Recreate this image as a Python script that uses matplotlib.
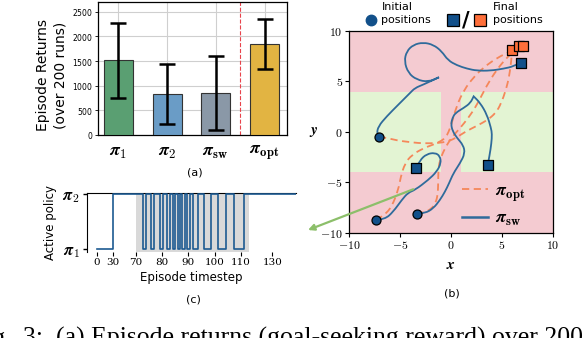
import numpy as np
import matplotlib
matplotlib.use("Agg")
import matplotlib.pyplot as plt
from matplotlib.path import Path
from matplotlib.patches import PathPatch, Rectangle
from matplotlib.lines import Line2D

plt.rcParams['mathtext.fontset'] = 'cm'
plt.rcParams['font.family'] = ['DejaVu Sans']
plt.rcParams['axes.formatter.use_mathtext'] = True

# ---------------- data: panel (a) ----------------
policies = [r'$\boldsymbol{\pi}_{\mathbf{1}}$', r'$\boldsymbol{\pi}_{\mathbf{2}}$',
            r'$\boldsymbol{\pi}_{\mathbf{sw}}$', r'$\boldsymbol{\pi}_{\mathbf{opt}}$']
returns_mean = [1525, 840, 860, 1850]
returns_low = [750, 220, 100, 1330]
returns_high = [2280, 1440, 1610, 2360]
bar_colors = ['#5a9f72', '#6a9cc6', '#8a98a7', '#e2b442']

# ---------------- data: panel (c) ----------------
switch_t = [0, 30, 72.8, 73.8, 75.9, 76.8, 79.1, 80.3, 82.0, 83.1, 84.1, 85.0,
            86.0, 86.9, 87.7, 88.6, 89.4, 90.5, 91.7, 93.6, 96.1, 98.7, 101.2,
            104.4, 107.5, 112.2, 145]
active_policy = [0, 1, 0, 1, 0, 1, 0, 1, 0, 1, 0, 1, 0, 1, 0, 1, 0, 1, 0, 1,
                 0, 1, 0, 1, 0, 1, 1]
shade_t = [70, 115]
c_ticks = [0, 30, 70, 80, 90, 100, 110, 130]

# ---------------- data: panel (b) ----------------
init_x = [-7.06, -7.35, -3.37]
init_y = [-0.46, -8.74, -8.12]
sw_final_x = [6.83, -3.46, 3.6]
sw_final_y = [6.86, -3.6, -3.27]
opt_final_x = [5.98, 6.63, 7.05]
opt_final_y = [8.12, 8.51, 8.51]

sw_traj_x = [
    [-7.06, -7.28, -7.13, -6.3, -5.17, -4.02, -3.53, -2.72, -1.18, -1.18, -2.23, -3.37, -4.19,
     -4.58, -4.35, -3.69, -2.72, -1.73, -0.91, -0.3, 0.59, 1.57, 2.55, 3.86, 5.16, 6.14, 6.83],
    [-7.35, -6.47, -5.66, -4.83, -4.2, -3.53, -2.23, -1.4, -0.98, -1.08, -1.57, -2.38, -3.04, -3.46],
    [-3.37, -2.55, -1.73, -1.08, -0.59, -0.2, 0.23, 0.88, 1.37, 1.2, 0.6, 0.15, 0.0, 0.15, 0.42,
     1.24, 1.9, 2.22, 2.22, 2.87, 3.53, 3.92, 4.02, 3.96, 3.79, 3.6],
]
sw_traj_y = [
    [-0.46, -0.2, 0.56, 1.55, 2.7, 3.86, 4.36, 4.69, 5.42, 5.42, 4.95, 5.18, 5.84,
     7.0, 7.99, 8.64, 8.87, 8.64, 7.99, 7.1, 6.6, 6.27, 6.07, 6.07, 6.27, 6.5, 6.86],
    [-8.74, -8.64, -7.89, -6.73, -6.0, -5.74, -4.75, -3.93, -3.1, -2.38, -2.05, -2.18, -2.77, -3.6],
    [-8.12, -8.05, -7.56, -6.73, -5.91, -5.1, -4.09, -3.1, -2.11, -1.3, -0.6, 0.1, 0.8, 1.4, 1.88,
     2.38, 2.87, 3.53, 3.53, 2.87, 1.71, 0.4, -0.2, -1.12, -2.28, -3.27],
]
opt_traj_x = [
    [-7.06, -6.15, -5.2, -4.34, -3.2, -2.06, -1.2, -0.42, 0.42, 1.4, 2.52, 3.6, 4.4, 4.9, 5.4,
     5.7, 5.85, 5.95, 5.98],
    [-7.35, -6.5, -5.81, -5.17, -4.93, -4.51, -3.85, -2.72, -1.4, -0.5, 0.0, 0.55, 1.3, 2.2,
     3.2, 4.6, 5.8, 6.63],
    [-3.37, -2.6, -1.9, -1.5, -1.3, -1.25, -1.25, -1.1, -0.6, 0.1, 0.9, 1.7, 2.5, 3.5, 4.5,
     5.6, 6.4, 7.05],
]
opt_traj_y = [
    [-0.46, -0.62, -0.85, -0.96, -1.1, -1.12, -1.08, -0.96, -0.63, 0.03, 0.6, 1.2, 1.9, 2.8,
     4.2, 5.5, 6.6, 7.5, 8.12],
    [-8.74, -8.2, -7.4, -5.74, -4.43, -3.1, -2.28, -1.61, -1.12, -0.6, 0.6, 2.6, 4.2, 5.4,
     6.4, 7.4, 7.95, 8.51],
    [-8.12, -7.95, -7.6, -7.0, -6.2, -5.0, -3.8, -2.8, -1.6, -0.5, 0.4, 1.4, 2.6, 4.6, 6.2,
     7.5, 8.2, 8.51],
]
green_regions = [(-10, -1, -4, 4), (1, 10, -4, 4)]
arrow_start = (-3.7, -5.67)

# ---------------- figure ----------------
W, H = 588, 338
fig = plt.figure(figsize=(W / 100, H / 100), dpi=100)


def rect(l, t, r, b):
    return [l / W, 1 - b / H, (r - l) / W, (b - t) / H]


def fx(px):
    return px / W


def fy(py):
    return 1 - py / H


# ---------- panel (a) ----------
axA = fig.add_axes(rect(98, 2, 287, 135))
xa = np.arange(len(policies))
axA.bar(xa, returns_mean, width=0.6, color=bar_colors, edgecolor='#333333',
        linewidth=0.8, zorder=3)
err = [np.array(returns_mean) - np.array(returns_low),
       np.array(returns_high) - np.array(returns_mean)]
axA.errorbar(xa, returns_mean, yerr=err, fmt='none', ecolor='black', elinewidth=1.8,
             capsize=5.5, capthick=1.8, zorder=4)
axA.axvline(2.5, color='#e8434b', linestyle='--', linewidth=0.8, zorder=2)
axA.set_xlim(-0.42, 3.46)
axA.set_ylim(0, 2700)
axA.set_yticks([0, 500, 1000, 1500, 2000, 2500])
axA.set_xticks(xa)
axA.set_xticklabels(policies, fontsize=13)
axA.tick_params(axis='y', labelsize=5.5, length=2, width=0.6, pad=1.5)
axA.tick_params(axis='x', length=0, pad=6)
axA.grid(True, color='#cfcfcf', linewidth=0.8)
axA.set_axisbelow(True)
for s in axA.spines.values():
    s.set_linewidth(0.9)
fig.text(fx(52), fy(75), 'Episode Returns\n(over 200 runs)', rotation=90,
         ha='center', va='center', fontsize=10, linespacing=1.3)
fig.text(fx(195), fy(172), '(a)', ha='center', va='center', fontsize=8)

# ---------- panel (c) ----------
t_break = [-20, 0, 30, 70, 110, 130, 150]
p_break = [85.7, 96.7, 113.3, 136.0, 241.7, 273.3, 305.0]


def fwd(t):
    return np.interp(t, t_break, p_break)


def inv(p):
    return np.interp(p, p_break, t_break)


axC = fig.add_axes(rect(86.7, 192.7, 296, 251.7))
axC.set_xscale('function', functions=(fwd, inv))
axC.axvspan(shade_t[0], shade_t[1], color='#d9d9d9', linewidth=0, zorder=1)
axC.step(switch_t, active_policy, where='post', color='#1d5a91', linewidth=1.2, zorder=3)
axC.set_xlim(-18, 145)
axC.set_ylim(-0.05, 1.025)
axC.set_yticks([0, 1])
axC.set_yticklabels([r'$\boldsymbol{\pi}_{\mathbf{1}}$', r'$\boldsymbol{\pi}_{\mathbf{2}}$'],
                    fontsize=12)
axC.set_xticks(c_ticks)
axC.set_xticklabels([str(t) for t in c_ticks], fontfamily='DejaVu Serif', fontsize=7.5)
axC.tick_params(axis='x', length=3, width=0.8, pad=1.5)
axC.tick_params(axis='y', length=3, width=1.0, pad=2)
axC.spines['right'].set_visible(False)
axC.spines['bottom'].set_visible(False)
axC.set_ylabel('Active policy', fontsize=8.5, labelpad=4)
axC.set_xlabel('Episode timestep', fontsize=8.5, labelpad=3)
fig.text(fx(193), fy(300), '(c)', ha='center', va='center', fontsize=8)

# ---------- panel (b) ----------
axB = fig.add_axes(rect(349, 31, 553, 233))
axB.set_facecolor('#f4cbd1')
for (x0, x1, y0, y1) in green_regions:
    axB.add_patch(Rectangle((x0, y0), x1 - x0, y1 - y0, facecolor='#e3f4d3',
                            edgecolor='none', zorder=0))


def smooth_path(xs, ys):
    pts = np.column_stack([xs, ys])
    verts = [pts[0]]
    codes = [Path.MOVETO]
    n = len(pts)
    for i in range(1, n - 1):
        mid = (pts[i] + pts[i + 1]) / 2 if i < n - 2 else pts[i + 1]
        verts += [pts[i], mid]
        codes += [Path.CURVE3, Path.CURVE3]
    return Path(verts, codes)


for xs, ys in zip(opt_traj_x, opt_traj_y):
    axB.add_patch(PathPatch(smooth_path(xs, ys), fill=False, edgecolor='#f5875a',
                            linewidth=1.3, linestyle=(0, (4, 2.5)), zorder=3))
for xs, ys in zip(sw_traj_x, sw_traj_y):
    axB.add_patch(PathPatch(smooth_path(xs, ys), fill=False, edgecolor='#2f6b9b',
                            linewidth=1.3, zorder=4))

axB.scatter(init_x, init_y, s=42, marker='o', facecolor='#12508a', edgecolor='black',
            linewidth=0.9, zorder=6)
axB.scatter(sw_final_x, sw_final_y, s=42, marker='s', facecolor='#12508a',
            edgecolor='black', linewidth=0.9, zorder=6)
axB.scatter(opt_final_x, opt_final_y, s=42, marker='s', facecolor='#ff6f3a',
            edgecolor='black', linewidth=0.9, zorder=6)

axB.set_xlim(-10, 10)
axB.set_ylim(-10, 10)
axB.set_xticks([-10, -5, 0, 5, 10])
axB.set_yticks([-10, -5, 0, 5, 10])
for lab in axB.get_xticklabels() + axB.get_yticklabels():
    lab.set_fontfamily('cmr10')
axB.tick_params(labelsize=8.5, length=3, width=0.8, pad=1.5)
for s in axB.spines.values():
    s.set_linewidth(0.9)
axB.set_xlabel(r'$\boldsymbol{x}$', fontsize=11, labelpad=4)
axB.set_ylabel(r'$\boldsymbol{y}$', fontsize=11, rotation=0, labelpad=5, va='center')

leg_handles = [Line2D([], [], color='#f5875a', linestyle=(0, (4, 2.5)), linewidth=1.3),
               Line2D([], [], color='#2f6b9b', linewidth=1.8)]
axB.legend(leg_handles, [r'$\boldsymbol{\pi}_{\mathbf{opt}}$', r'$\boldsymbol{\pi}_{\mathbf{sw}}$'],
           loc='center left', bbox_to_anchor=(0.555, 0.14), frameon=False, fontsize=13,
           handlelength=1.45, handletextpad=0.35, labelspacing=0.3, borderpad=0,
           borderaxespad=0)

# top legend (figure level)
fig.add_artist(Line2D([fx(370.7)], [fy(20)], marker='o', markersize=7.5,
                      markerfacecolor='#12508a', markeredgecolor='#12508a',
                      transform=fig.transFigure))
fig.text(fx(381.5), fy(13.5), 'Initial\npositions', ha='left', va='center',
         fontsize=8, linespacing=1.3)
fig.add_artist(Line2D([fx(453.3)], [fy(20)], marker='s', markersize=8,
                      markerfacecolor='#12508a', markeredgecolor='black',
                      markeredgewidth=0.9, transform=fig.transFigure))
fig.text(fx(466), fy(20), '/', ha='center', va='center', fontsize=15,
         fontweight='bold')
fig.add_artist(Line2D([fx(480)], [fy(20)], marker='s', markersize=8,
                      markerfacecolor='#ff6f3a', markeredgecolor='black',
                      markeredgewidth=0.9, transform=fig.transFigure))
fig.text(fx(492.5), fy(13.5), 'Final\npositions', ha='left', va='center',
         fontsize=8, linespacing=1.3)

fig.text(fx(452), fy(294), '(b)', ha='center', va='center', fontsize=8)

# green arrow from panel (b) to panel (c)
axB.annotate('', xy=(fx(308), fy(230)), xycoords='figure fraction',
             xytext=arrow_start, textcoords='data',
             arrowprops=dict(arrowstyle='-|>', color='#8cbf6a', linewidth=1.6,
                             mutation_scale=9, shrinkA=0, shrinkB=0),
             annotation_clip=False, zorder=7)

# partially visible caption at bottom (cropped by the figure edge)
fig.text(fx(12), fy(345), 'Fig.', ha='right', va='baseline',
         fontfamily='Liberation Serif', fontsize=18.5)
fig.text(fx(23), fy(345), '3:  (a) Episode returns (goal-seeking reward) over 200 runs',
         ha='left', va='baseline', fontfamily='Liberation Serif', fontsize=18.5)

fig.savefig('out.png', dpi=100)
